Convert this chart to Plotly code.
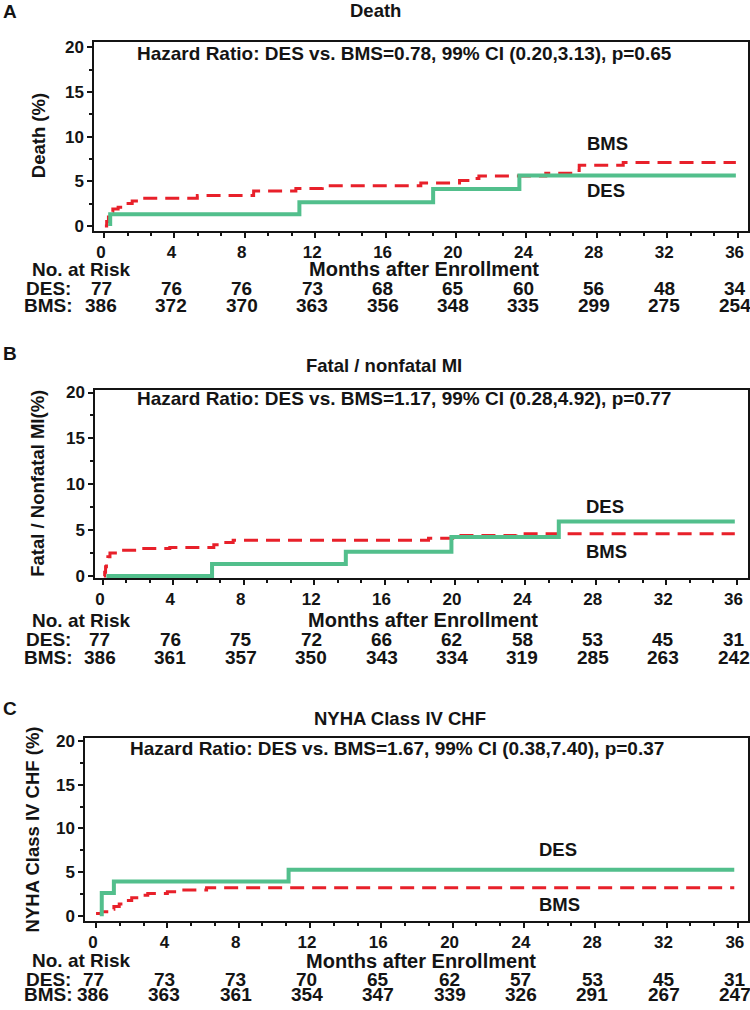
import plotly.graph_objects as go

MONTH_TICKS = [0, 4, 8, 12, 16, 20, 24, 28, 32, 36]

# Panel A - Death (months, cumulative %)
DEATH_DES_T = [0.35, 0.35, 11.1, 18.7, 23.6, 35.9]
DEATH_DES_Y = [0.0, 1.3, 2.65, 4.15, 5.65, 5.65]
DEATH_BMS_T = [0.05, 0.15, 0.25, 0.35, 0.5, 0.8, 1.2, 1.6, 2.0, 5.3, 8.5, 10.9, 12.4,
               18.0, 20.2, 21.0, 21.3, 25.1, 26.7, 27.0, 29.5, 35.9]
DEATH_BMS_Y = [0.0, 0.5, 1.0, 1.6, 1.9, 2.1, 2.5, 2.8, 3.1, 3.4, 3.9, 4.2, 4.5,
               4.8, 5.1, 5.3, 5.6, 5.9, 6.2, 6.8, 7.1, 7.1]
DEATH_RISK_DES = [77, 76, 76, 73, 68, 65, 60, 56, 48, 34]
DEATH_RISK_BMS = [386, 372, 370, 363, 356, 348, 335, 299, 275, 254]

# Panel B - Fatal / nonfatal MI
MI_DES_T = [0.2, 6.2, 13.8, 19.8, 25.9, 35.9]
MI_DES_Y = [0.0, 1.3, 2.65, 4.25, 5.95, 5.95]
MI_BMS_T = [0.05, 0.1, 0.15, 0.2, 0.28, 0.4, 1.0, 2.1, 3.8, 6.3, 6.8, 7.4, 18.5, 20.2, 23.5, 35.9]
MI_BMS_Y = [0.0, 0.4, 1.0, 1.6, 2.1, 2.5, 2.8, 3.0, 3.1, 3.4, 3.65, 3.9, 4.1, 4.4, 4.6, 4.6]
MI_RISK_DES = [77, 76, 75, 72, 66, 62, 58, 53, 45, 31]
MI_RISK_BMS = [386, 361, 357, 350, 343, 334, 319, 285, 263, 242]

# Panel C - NYHA Class IV CHF
CHF_DES_T = [0.32, 0.32, 1.0, 10.8, 35.8]
CHF_DES_Y = [0.0, 2.65, 3.95, 5.3, 5.3]
CHF_BMS_T = [0.0, 0.3, 0.6, 1.0, 1.3, 1.6, 2.0, 2.4, 2.9, 4.0, 4.8, 6.2, 35.8]
CHF_BMS_Y = [0.3, 0.5, 0.8, 1.1, 1.4, 1.8, 2.1, 2.4, 2.6, 2.8, 3.0, 3.25, 3.25]
CHF_RISK_DES = [77, 73, 73, 70, 65, 62, 57, 53, 45, 31]
CHF_RISK_BMS = [386, 363, 361, 354, 347, 339, 326, 291, 267, 247]

GREEN = "#52bf8c"
RED = "#e8202a"
INK = "#141414"
FONT = "Liberation Sans, Arial, Helvetica, sans-serif"
W, H = 750, 1010

PANELS = [
    dict(letter="A", title="Death", ytitle="Death (%)",
         hr="Hazard Ratio: DES vs. BMS=0.78, 99% CI (0.20,3.13), p=0.65",
         des=(DEATH_DES_T, DEATH_DES_Y), bms=(DEATH_BMS_T, DEATH_BMS_Y),
         risk=(DEATH_RISK_DES, DEATH_RISK_BMS),
         box=(94, 748, 36, 228), xr=[-0.57, 36.59], yr=[-0.55, 20.66],
         hr_pos=(17.1, 19.3), des_lab=(28.5, 4.0), bms_lab=(28.6, 9.2),
         ytitle_x=38, title_xy=(375, 5), letter_y=6, table_y=(267, 286, 304)),
    dict(letter="B", title="Fatal / nonfatal MI", ytitle="Fatal / Nonfatal MI(%)",
         hr="Hazard Ratio: DES vs. BMS=1.17, 99% CI (0.28,4.92), p=0.77",
         des=(MI_DES_T, MI_DES_Y), bms=(MI_BMS_T, MI_BMS_Y),
         risk=(MI_RISK_DES, MI_RISK_BMS),
         box=(95, 748, 389, 580), xr=[-0.45, 36.65], yr=[-0.22, 20.32],
         hr_pos=(17.1, 19.35), des_lab=(28.5, 7.6), bms_lab=(28.6, 2.7),
         ytitle_x=38, title_xy=(384, 365), letter_y=352, table_y=(623, 642, 661)),
    dict(letter="C", title="NYHA Class IV CHF", ytitle="NYHA Class IV CHF (%)",
         hr="Hazard Ratio: DES vs. BMS=1.67, 99% CI (0.38,7.40), p=0.37",
         des=(CHF_DES_T, CHF_DES_Y), bms=(CHF_BMS_T, CHF_BMS_Y),
         risk=(CHF_RISK_DES, CHF_RISK_BMS),
         box=(85, 748, 742, 928), xr=[-0.62, 36.57], yr=[-0.56, 20.34],
         hr_pos=(16.9, 19.1), des_lab=(25.9, 7.6), bms_lab=(26.0, 1.35),
         ytitle_x=32, title_xy=(400, 723), letter_y=712, table_y=(968, 987, 1002)),
]


def py(v):
    return 1 - v / H


def note(text, x, y, xref="paper", yref="paper", size=19, **kw):
    return dict(text=text, x=x, y=y, xref=xref, yref=yref, showarrow=False,
                xanchor="center", yanchor="middle",
                font=dict(family=FONT, size=size, color=INK, weight="bold"), **kw)


fig = go.Figure()
annotations = []
layout = {}

for i, p in enumerate(PANELS, start=1):
    sfx = "" if i == 1 else str(i)
    xa, ya = "x" + sfx, "y" + sfx
    l, r, t, b = p["box"]

    fig.add_trace(go.Scatter(
        x=p["bms"][0], y=p["bms"][1], mode="lines", line_shape="hv",
        line=dict(color=RED, width=3, dash="14px,8px"),
        xaxis=xa, yaxis=ya, showlegend=False, hoverinfo="skip"))
    fig.add_trace(go.Scatter(
        x=p["des"][0], y=p["des"][1], mode="lines", line_shape="hv",
        line=dict(color=GREEN, width=4),
        xaxis=xa, yaxis=ya, showlegend=False, hoverinfo="skip"))

    layout["xaxis" + sfx] = dict(
        domain=[l / W, r / W], range=p["xr"], anchor=ya,
        tickvals=MONTH_TICKS, ticks="outside", ticklen=5, tickwidth=1.5, tickcolor=INK,
        ticklabelshift=-3,
        minor=dict(tick0=0, dtick=4 / 3, ticks="outside", ticklen=3, tickcolor=INK),
        showline=True, linecolor=INK, linewidth=1.5, mirror=True,
        showgrid=False, zeroline=False,
        tickfont=dict(size=17, color=INK, family=FONT, weight="bold"))
    layout["yaxis" + sfx] = dict(
        domain=[py(b), py(t)], range=p["yr"], anchor=xa,
        tickvals=[0, 5, 10, 15, 20], ticks="outside", ticklen=5, tickwidth=1.5, tickcolor=INK,
        minor=dict(tick0=0, dtick=2.5, ticks="outside", ticklen=3, tickcolor=INK),
        showline=True, linecolor=INK, linewidth=1.5, mirror=True,
        showgrid=False, zeroline=False,
        tickfont=dict(size=17, color=INK, family=FONT, weight="bold"))

    ty = p["table_y"]
    annotations += [
        note(p["letter"], 10 / W, py(p["letter_y"])),
        note(p["title"], p["title_xy"][0] / W, py(p["title_xy"][1]), size=18.5),
        note(p["ytitle"], p["ytitle_x"] / W, py((t + b) / 2), size=18.5, textangle=-90),
        note(p["hr"], p["hr_pos"][0], p["hr_pos"][1], xref=xa, yref=ya),
        note("DES", p["des_lab"][0], p["des_lab"][1], xref=xa, yref=ya, size=18.5),
        note("BMS", p["bms_lab"][0], p["bms_lab"][1], xref=xa, yref=ya, size=18.5),
        note("No. at Risk", 81 / W, py(ty[0])),
        note("Months after Enrollment", 18.2, py(ty[0]), xref=xa, size=20),
        note("DES:", 48 / W, py(ty[1])),
        note("BMS:", 48 / W, py(ty[2])),
    ]
    for m, nd, nb in zip(MONTH_TICKS, p["risk"][0], p["risk"][1]):
        annotations.append(note(str(nd), m, py(ty[1]), xref=xa, xshift=-3))
        annotations.append(note(str(nb), m, py(ty[2]), xref=xa, xshift=-3))

fig.update_layout(
    width=W, height=H,
    margin=dict(l=0, r=0, t=0, b=0),
    plot_bgcolor="#ffffff", paper_bgcolor="#ffffff",
    font=dict(family=FONT, color=INK),
    annotations=annotations,
    **layout,
)

fig.write_html(
    "out.html", config={"displayModeBar": False},
    post_script="document.body.style.margin='0';"
                "document.documentElement.style.overflow='hidden';"
                "document.body.style.overflow='hidden';")
